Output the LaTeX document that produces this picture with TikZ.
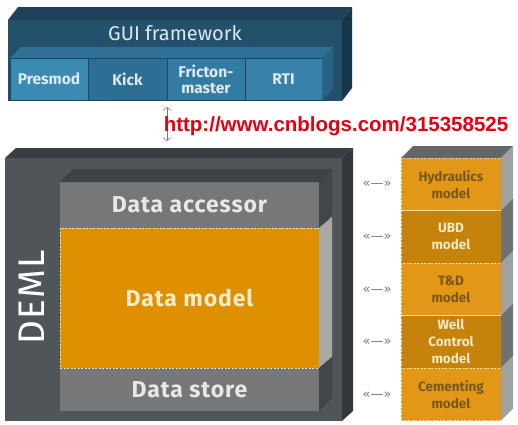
\documentclass[tikz,border=0pt]{standalone}
\usepackage{fontspec}
\setmainfont{Fira Sans}
\newfontfamily\urlfont{Liberation Sans}
\newfontfamily\arrfont{DejaVu Sans}
\usetikzlibrary{arrows.meta}
\definecolor{guifront}{RGB}{35,80,106}
\definecolor{guitop}{RGB}{29,66,89}
\definecolor{guiside}{RGB}{24,55,75}
\definecolor{guiline}{RGB}{30,70,95}
\definecolor{guitext}{RGB}{222,232,240}
\definecolor{presmodblue}{RGB}{58,138,178}
\definecolor{kickblue}{RGB}{44,110,148}
\definecolor{frictonblue}{RGB}{50,124,164}
\definecolor{rtiblue}{RGB}{54,130,170}
\definecolor{subtop}{RGB}{48,112,150}
\definecolor{subside}{RGB}{40,98,132}
\definecolor{demlfront}{RGB}{80,85,90}
\definecolor{demltop}{RGB}{58,62,66}
\definecolor{demlside}{RGB}{52,56,60}
\definecolor{innertop}{RGB}{62,66,70}
\definecolor{innerside}{RGB}{66,70,74}
\definecolor{accgray}{RGB}{118,119,121}
\definecolor{acctext}{RGB}{232,232,232}
\definecolor{modelorange}{RGB}{222,144,0}
\definecolor{modelside}{RGB}{168,169,167}
\definecolor{modeltext}{RGB}{246,235,205}
\definecolor{dashcream}{RGB}{250,225,160}
\definecolor{lightorange}{RGB}{226,152,22}
\definecolor{darkorange}{RGB}{198,131,12}
\definecolor{darktext}{RGB}{120,88,28}
\definecolor{lighttext}{RGB}{246,232,195}
\definecolor{stacktop}{RGB}{100,102,104}
\definecolor{sidelight}{RGB}{160,161,160}
\definecolor{sidedark}{RGB}{112,113,115}
\definecolor{arrgray}{RGB}{120,120,120}
\definecolor{urlred}{RGB}{228,0,18}
\begin{document}
\begin{tikzpicture}[x=1pt,y=-1pt,
  face/.style={inner sep=0pt, outer sep=0pt, anchor=north west},
  subbox/.style={face, minimum height=42pt, draw=guiline, line width=0.6pt, align=center,
    text=guitext, font=\bfseries\fontsize{15.5}{16}\selectfont},
  layer/.style={face, minimum width=259pt, font=\bfseries\fontsize{23}{23}\selectfont\addfontfeatures{LetterSpace=4}},
  model/.style={face, minimum width=100pt, minimum height=52.5pt, align=center,
    draw=dashcream, dash pattern=on 2pt off 1.5pt, line width=0.7pt,
    font=\bfseries\fontsize{13.5}{17}\selectfont},
  arrlbl/.style={text=arrgray, font=\arrfont\fontsize{13}{13}\selectfont},
  link/.style={arrgray, line width=0.6pt,
    {Straight Barb[length=3pt,width=8pt]}-{Straight Barb[length=3pt,width=8pt]}}]
\useasboundingbox (0,0) rectangle (518,424);
\node[face, fill=guifront, minimum width=334pt, minimum height=81pt] (gui) at (8,20) {};
\fill[guitop] (gui.north west) -- ++(10,-13) -- ([shift={(10,-13)}]gui.north east) -- (gui.north east) -- cycle;
\fill[guiside] (gui.north east) -- ++(10,-13) -- ([shift={(10,-13)}]gui.south east) -- (gui.south east) -- cycle;
\node[text=guitext, font=\fontsize{20}{20}\selectfont] (guititle) at (175,33) {GUI framework};
\fill[subtop] (10,58) -- ++(11,-11) -- ++(78,0) -- (88,58) -- cycle;
\node[subbox, fill=presmodblue, minimum width=78pt] (presmod) at (10,58) {Presmod};
\fill[subtop] (88,58) -- ++(11,-11) -- ++(79,0) -- (167,58) -- cycle;
\node[subbox, fill=kickblue, minimum width=79pt] (kick) at (88,58) {Kick};
\fill[subtop] (167,58) -- ++(11,-11) -- ++(78,0) -- (245,58) -- cycle;
\node[subbox, fill=frictonblue, minimum width=78pt] (fricton) at (167,58) {Fricton-\\master};
\fill[subtop] (245,58) -- ++(11,-11) -- ++(77,0) -- (322,58) -- cycle;
\node[subbox, fill=rtiblue, minimum width=77pt] (rti) at (245,58) {RTI};
\fill[subside] (rti.north east) -- ++(11,-11) -- ([shift={(11,-11)}]rti.south east) -- (rti.south east) -- cycle;
\node[face, fill=demlfront, minimum width=337pt, minimum height=263pt] (deml) at (5,158) {};
\fill[demltop] (deml.north west) -- ++(11,-10) -- ([shift={(11,-10)}]deml.north east) -- (deml.north east) -- cycle;
\fill[demlside] (deml.north east) -- ++(11,-10) -- ([shift={(11,-10)}]deml.south east) -- (deml.south east) -- cycle;
\node[rotate=90, text=white, font=\fontsize{37}{37}\selectfont\addfontfeatures{LetterSpace=3}] (demllabel) at (32,297) {DEML};
\node[layer, fill=accgray, minimum height=46pt, text=acctext] (accessor) at (60,182) {Data accessor};
\node[layer, fill=accgray, minimum height=43pt, text=acctext] (store) at (60,368) {Data store};
\node[layer, fill=modelorange, minimum height=140pt, text=modeltext, draw=dashcream,
  dash pattern=on 2pt off 1.5pt, line width=0.7pt] (datamodel) at (60,228) {Data model};
\fill[innertop] (accessor.north west) -- ++(13,-13) -- ([shift={(13,-13)}]accessor.north east) -- (accessor.north east) -- cycle;
\fill[innerside] (accessor.north east) -- ++(13,-13) -- ([shift={(13,-13)}]accessor.south east) -- (accessor.south east) -- cycle;
\fill[modelside] (datamodel.north east) -- ++(13,-11) -- ([shift={(13,-11)}]datamodel.south east) -- (datamodel.south east) -- cycle;
\fill[innerside] (store.north east) -- ++(13,-11) -- ([shift={(13,-13)}]store.south east) -- (store.south east) -- cycle;
\node[model, fill=lightorange, text=darktext] (hydraulics) at (401,158) {Hydraulics\\model};
\node[model, fill=darkorange, text=lighttext] (ubd) at (401,210.5) {UBD\\model};
\node[model, fill=lightorange, text=darktext] (td) at (401,263) {T\&D\\model};
\node[model, fill=darkorange, text=lighttext] (wellcontrol) at (401,315.5) {Well\\Control\\model};
\node[model, fill=lightorange, text=darktext] (cementing) at (401,368) {Cementing\\model};
\fill[stacktop] (hydraulics.north west) -- ++(12,-12) -- ([shift={(12,-12)}]hydraulics.north east) -- (hydraulics.north east) -- cycle;
\fill[sidelight] (hydraulics.north east) -- ++(12,-12) -- ([shift={(12,-12)}]hydraulics.south east) -- (hydraulics.south east) -- cycle;
\fill[sidedark] (ubd.north east) -- ++(12,-12) -- ([shift={(12,-12)}]ubd.south east) -- (ubd.south east) -- cycle;
\fill[sidelight] (td.north east) -- ++(12,-12) -- ([shift={(12,-12)}]td.south east) -- (td.south east) -- cycle;
\fill[sidedark] (wellcontrol.north east) -- ++(12,-12) -- ([shift={(12,-12)}]wellcontrol.south east) -- (wellcontrol.south east) -- cycle;
\fill[sidelight] (cementing.north east) -- ++(12,-12) -- ([shift={(12,-12)}]cementing.south east) -- (cementing.south east) -- cycle;
\node[arrlbl] (hydarrow) at (377,184) {«—»};
\node[arrlbl] (ubdarrow) at (377,237) {«—»};
\node[arrlbl] (tdarrow) at (377,290) {«—»};
\node[arrlbl] (wcarrow) at (377,342) {«—»};
\node[arrlbl] (cemarrow) at (377,395) {«—»};
\coordinate (guilink) at (167,107);
\coordinate (demllink) at (167,141);
\draw[link] (guilink) -- (demllink);
\node[text=urlred, font=\urlfont\bfseries\fontsize{20.5}{21}\selectfont] (url) at (336,126) {http://www.cnblogs.com/315358525};
\end{tikzpicture}
\end{document}
